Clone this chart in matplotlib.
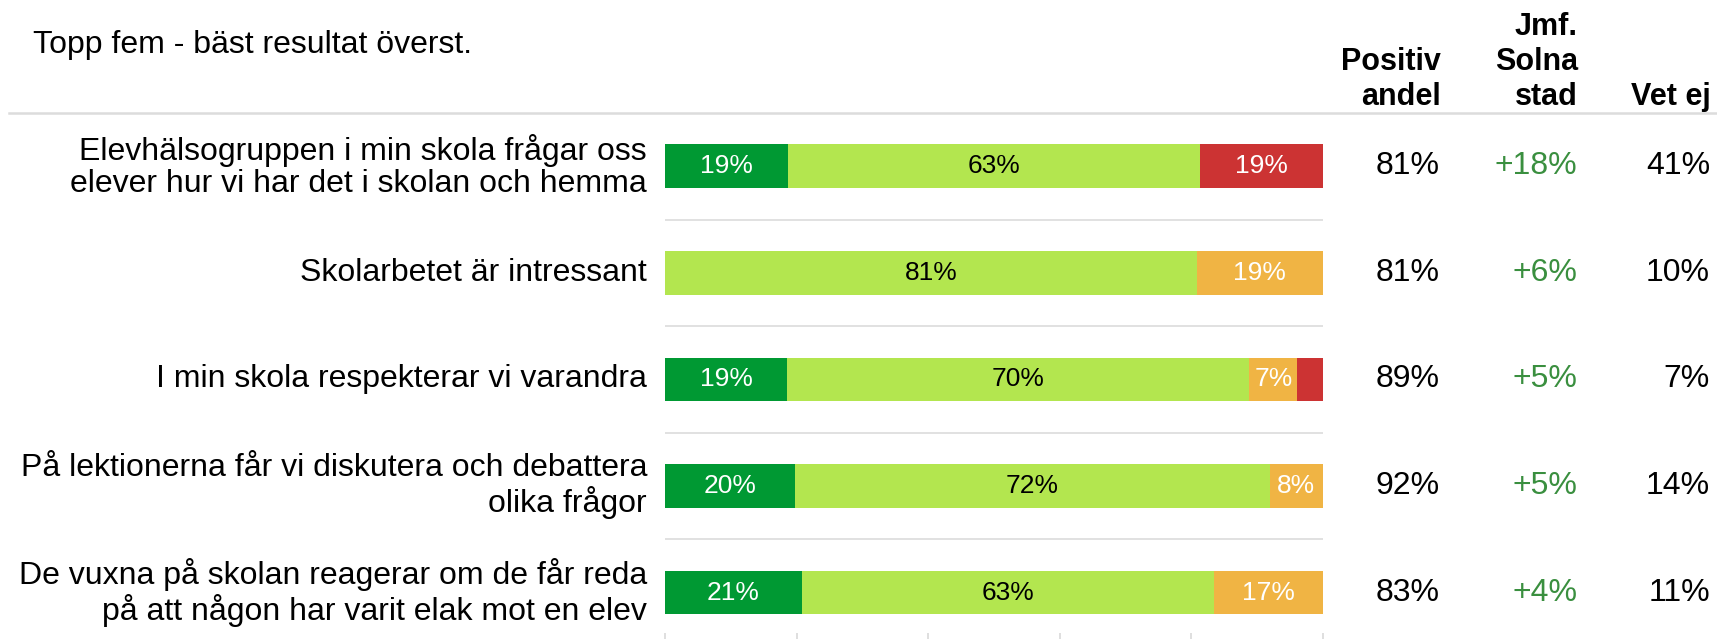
import numpy as np
import matplotlib
matplotlib.use('Agg')
import matplotlib.pyplot as plt
import matplotlib.transforms as mtransforms

plt.rcParams['font.family'] = ['Liberation Sans', 'DejaVu Sans']

# data
questions = [
    'Elevhälsogruppen i min skola frågar oss\nelever hur vi har det i skolan och hemma',
    'Skolarbetet är intressant',
    'I min skola respekterar vi varandra',
    'På lektionerna får vi diskutera och debattera\nolika frågor',
    'De vuxna på skolan reagerar om de får reda\npå att någon har varit elak mot en elev',
]
very_pos = [18.7, 0.0, 18.6, 19.8, 20.8]
pos = [62.6, 80.8, 70.2, 72.1, 62.6]
neg = [0.0, 19.2, 7.3, 8.1, 16.6]
very_neg = [18.7, 0.0, 3.9, 0.0, 0.0]
positive_share = [81, 81, 89, 92, 83]
jmf_solna = [18, 6, 5, 5, 4]
vet_ej = [41, 10, 7, 14, 11]

title = 'Topp fem - bäst resultat överst.'
headers = [['Positiv', 'andel'], ['Jmf.', 'Solna', 'stad'], ['Vet ej']]

seg_colors = ['#009933', '#b3e64f', '#f0b444', '#cc3333']
txt_colors = ['white', 'black', 'white', 'white']

W, H = 1717, 639
fig = plt.figure(figsize=(W / 100, H / 100), dpi=100)
ax = fig.add_axes([665 / W, 1 - 633 / H, 658 / W, 520 / H])

y = np.arange(len(questions))
left = np.zeros(len(questions))
for vals, c, tc in zip([very_pos, pos, neg, very_neg], seg_colors, txt_colors):
    vals = np.array(vals)
    ax.barh(y, vals, left=left, height=0.41, color=c, edgecolor='none')
    for yi, l, v in zip(y, left, vals):
        if v >= 5:
            ax.text(l + v / 2, yi, '%d%%' % round(v), ha='center', va='center',
                    color=tc, fontsize=19)
    left = left + vals

ax.set_xlim(0, 100)
ax.set_ylim(4.38, -0.5)
for s in ax.spines.values():
    s.set_visible(False)
ax.set_yticks([])
ax.set_xticks([0, 20, 40, 60, 80, 100])
ax.set_xticklabels([])
ax.tick_params(axis='x', colors='#d9d9d9', length=5, width=1.2, direction='out')
for sep in y[:-1] + 0.5:
    ax.axhline(sep, color='#dcdcdc', lw=1.2)

# text columns (x in figure, y in data)
tr = mtransforms.blended_transform_factory(fig.transFigure, ax.transData)
for yi, q, p, j, v in zip(y, questions, positive_share, jmf_solna, vet_ej):
    ax.text(647 / W, yi, q, transform=tr, ha='right', va='center',
            multialignment='right', fontsize=23, linespacing=1.1, color='black')
    ax.text(1440 / W, yi, '%d%%' % p, transform=tr, ha='right', va='center',
            fontsize=23, color='black')
    ax.text(1577 / W, yi, '+%d%%' % j, transform=tr, ha='right', va='center',
            fontsize=23, color='#3a8f3f')
    ax.text(1710 / W, yi, '%d%%' % v, transform=tr, ha='right', va='center',
            fontsize=23, color='black')

# header
fig.text(33 / W, 1 - 53 / H, title, ha='left', va='baseline', fontsize=23)
baselines = [35, 70, 105]
for hx, lines in zip([1441, 1578, 1711], headers):
    for k, line in enumerate(lines):
        yb = baselines[len(baselines) - len(lines) + k]
        fig.text(hx / W, 1 - yb / H, line, ha='right', va='baseline',
                 fontsize=22, fontweight='bold')
fig.add_artist(plt.Line2D([9 / W, 1], [1 - 113 / H, 1 - 113 / H],
                          transform=fig.transFigure, color='#dcdcdc', lw=1.8))

fig.savefig('out.png', dpi=100)
